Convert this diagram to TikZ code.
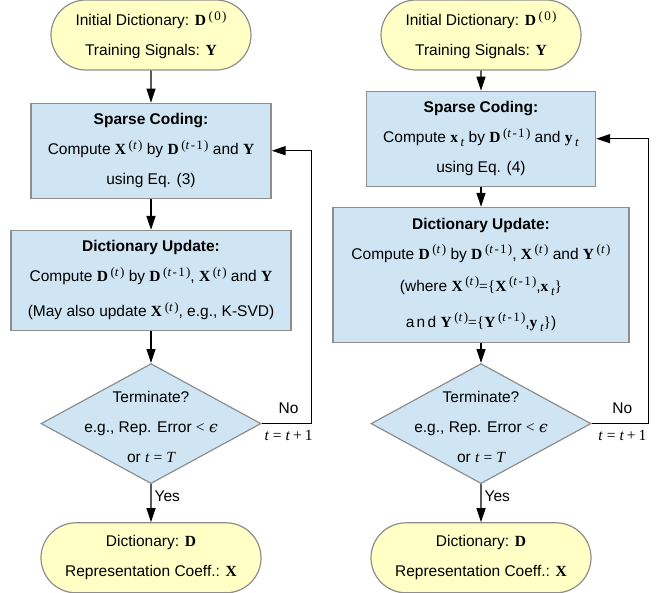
\documentclass[tikz,border=0pt]{standalone}
\usepackage{fontspec}
\setmainfont{Liberation Sans}
\newfontfamily\tms{Liberation Serif}
\newfontfamily\dvs{DejaVu Serif}
\usepackage{tikz}
\usetikzlibrary{arrows.meta,positioning,shapes.geometric,shapes.misc}

\definecolor{termfill}{HTML}{FFFFC6}
\definecolor{procfill}{HTML}{CFE5F4}
\definecolor{edgegray}{HTML}{8E8E8E}

\newcommand{\bv}[1]{{\tms\bfseries #1}}
\newcommand{\iv}[1]{{\tms\itshape #1}}
\newcommand{\sups}[1]{\,\raisebox{5.5pt}{\fontsize{13}{13}\selectfont\tms\addfontfeature{LetterSpace=10}#1}}
\newcommand{\subs}[1]{\,\raisebox{-4pt}{\fontsize{13}{13}\selectfont\tms\itshape #1}}
\newcommand{\supt}{\sups{(\textit{t})}}
\newcommand{\suptm}{\sups{(\textit{t}-1)}}
\newcommand{\eqs}{{\tms =}}
\newcommand{\releq}{\hspace{4pt}{\tms =}\hspace{4pt}}

\begin{document}
\begin{tikzpicture}[
    x=1pt, y=-1pt,
    font=\fontsize{15.5}{30}\selectfont,
    terminal/.style={
        rounded rectangle, draw=edgegray, fill=termfill, line width=1.2pt,
        minimum width=#1, minimum height=70pt, align=center, inner sep=0pt
    },
    terminal/.default=200pt,
    process/.style={
        rectangle, draw=edgegray, fill=procfill, line width=1.2pt,
        align=center, inner sep=0pt
    },
    decision/.style={
        diamond, aspect=1.83, draw=edgegray, fill=procfill, line width=1.2pt,
        minimum width=220pt, minimum height=120pt, inner sep=0pt
    },
    dtext/.style={align=center, inner sep=0pt, yshift=-3pt},
    flow/.style={-{Triangle[length=14pt, width=9pt]}, line width=1.2pt},
    looplabel/.style={font=\fontsize{15.5}{18}\selectfont, inner sep=3pt},
]
\useasboundingbox (0,0) rectangle (668,592);

% ── Left: batch learning ──
\node[terminal] (lstart) at (151,35) {
    Initial Dictionary: \bv{D}\sups{(0)}\\
    Training Signals: \bv{Y}
};
\node[process, below=32pt of lstart, minimum width=240pt, minimum height=95pt] (lsc) {
    \textbf{Sparse Coding:}\\
    Compute \bv{X}\supt{} by \bv{D}\suptm{} and \bv{Y}\\
    using Eq. (3)
};
\node[process, below=31pt of lsc, minimum width=280pt, minimum height=100pt] (ldu) {
    \textbf{Dictionary Update:}\\
    Compute \bv{D}\supt{} by \bv{D}\suptm, \bv{X}\supt{} and \bv{Y}\\[5pt]
    (May also update \bv{X}\supt, e.g., K-SVD)
};
\node[decision, below=32pt of ldu] (ldec) {};
\node[dtext] at (ldec) {
    Terminate?\\
    e.g., Rep. Error {\tms <} {\dvs\itshape ϵ}\\
    or \iv{t}\releq\iv{T}
};
\node[terminal=220pt, below=38pt of ldec] (lend) {
    Dictionary: \bv{D}\\
    Representation Coeff.: \bv{X}
};

\draw[flow] (lstart) -- (lsc);
\draw[flow] (lsc) -- (ldu);
\draw[flow] (ldu) -- (ldec);
\draw[flow] (ldec) -- node[right, pos=0.32, looplabel] {Yes} (lend);
\draw[flow] (ldec.east) -| node[above, pos=0.27, looplabel, inner sep=9pt] {No}
    node[below, pos=0.27, looplabel, inner sep=6pt] {\iv{t}\releq\iv{t}\hspace{3pt}{\tms +}\hspace{3pt}{\tms 1}}
    ([xshift=20pt]ldu.east) |- (lsc.east);

% ── Right: online learning ──
\node[terminal] (rstart) at (481,35) {
    Initial Dictionary: \bv{D}\sups{(0)}\\
    Training Signals: \bv{Y}
};
\node[process, below=20pt of rstart, minimum width=229pt, minimum height=95pt] (rsc) {
    \textbf{Sparse Coding:}\\
    Compute \bv{x}\subs{t} by \bv{D}\suptm{} and \bv{y}\subs{t}\\
    using Eq. (4)
};
\node[process, below=20pt of rsc, minimum width=296pt, minimum height=135pt] (rdu) {
    \textbf{Dictionary Update:}\\
    Compute \bv{D}\supt{} by \bv{D}\suptm, \bv{X}\supt{} and \bv{Y}\supt\\[2pt]
    (where \bv{X}\supt\eqs{\tms\{}\bv{X}\suptm,\bv{x}\subs{t}{\tms\}}\\[6pt]
    {\addfontfeature{LetterSpace=15}and} \bv{Y}\supt\eqs{\tms\{}\bv{Y}\suptm,\bv{y}\subs{t}{\tms\}})
};
\node[decision, below=20pt of rdu] (rdec) {};
\node[dtext] at (rdec) {
    Terminate?\\
    e.g., Rep. Error {\tms <} {\dvs\itshape ϵ}\\
    or \iv{t}\releq\iv{T}
};
\node[terminal=220pt, below=38pt of rdec] (rend) {
    Dictionary: \bv{D}\\
    Representation Coeff.: \bv{X}
};

\draw[flow] (rstart) -- (rsc);
\draw[flow] (rsc) -- (rdu);
\draw[flow] (rdu) -- (rdec);
\draw[flow] (rdec) -- node[right, pos=0.32, looplabel] {Yes} (rend);
\draw[flow] (rdec.east) -| node[above, pos=0.27, looplabel, inner sep=9pt] {No}
    node[below, pos=0.27, looplabel, inner sep=6pt] {\iv{t}\releq\iv{t}\hspace{3pt}{\tms +}\hspace{3pt}{\tms 1}}
    ([xshift=19pt]rdu.east) |- (rsc.east);

\end{tikzpicture}
\end{document}
